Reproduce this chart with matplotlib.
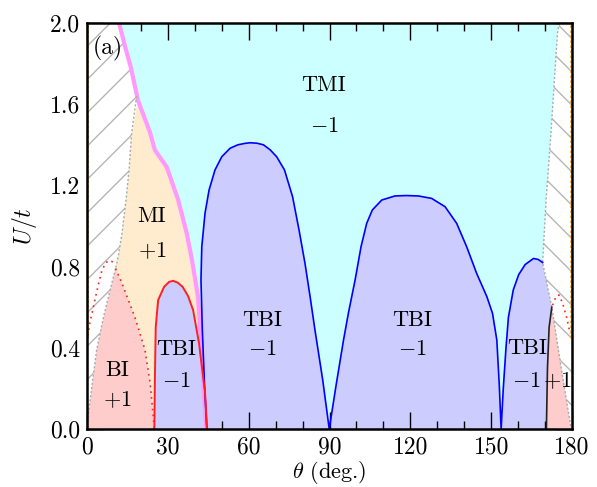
import matplotlib
matplotlib.use("Agg")
import matplotlib.pyplot as plt
import numpy as np

plt.rcParams['font.family'] = ['cmr10', 'DejaVu Serif']
plt.rcParams['mathtext.fontset'] = 'cm'
plt.rcParams['axes.unicode_minus'] = False
plt.rcParams['hatch.color'] = '#b5b5b5'
plt.rcParams['hatch.linewidth'] = 1.0

# ---------------- data (theta in deg, U/t) ----------------
# MI / TMI boundary (thick pink line)
pink_theta = [11.9, 14.0, 16.3, 18.9, 23.4, 25.2, 29.6, 33.8, 37.0, 39.0, 41.2, 42.2, 43.3, 44.3]
pink_U     = [2.00, 1.89, 1.78, 1.62, 1.46, 1.374, 1.29, 1.13, 0.965, 0.83, 0.65, 0.45, 0.20, 0.00]

# hatched (left) / MI boundary (gray dotted)
lgray_theta = [18.4, 16.5, 15.7, 14.5, 13.0, 11.6, 10.6]
lgray_U     = [1.64, 1.45, 1.29, 1.13, 0.965, 0.85, 0.79]

# BI (left) outer edge (gray dotted)
bi_left_theta = [10.6, 8.3, 6.1, 3.6, 2.0, 0.4, 0.0]
bi_left_U     = [0.79, 0.67, 0.55, 0.39, 0.23, 0.06, 0.0]

# BI / MI boundary (red dotted)
bi_mi_theta = [10.6, 12.9, 15.5, 17.8, 21.5, 23.4, 24.6, 25.0]
bi_mi_U     = [0.79, 0.72, 0.63, 0.55, 0.39, 0.23, 0.06, 0.0]

# red dotted arc inside left hatched region
lred_theta = [0.3, 1.0, 1.7, 3.0, 4.2, 5.5, 7.0, 8.5, 10.0]
lred_U     = [0.46, 0.52, 0.56, 0.64, 0.71, 0.78, 0.82, 0.83, 0.82]

# small TBI dome (red line)
dome_theta = [25.0, 25.2, 25.5, 26.4, 28.6, 30.5, 32.0, 33.8, 35.5, 37.5, 39.4, 41.6, 43.8, 44.5]
dome_U     = [0.0, 0.25, 0.50, 0.635, 0.70, 0.725, 0.73, 0.72, 0.70, 0.655, 0.585, 0.42, 0.18, 0.0]

# TMI / TBI boundary (blue line)
blue_theta = [44.5, 43.6, 42.8, 42.3, 42.6, 43.8, 45.3, 47.5, 50.0, 53.1, 56.0, 58.6, 60.5,
              63.0, 65.5, 68.0, 70.4, 73.3, 76.3, 78.7, 80.9, 82.8, 84.6, 87.5, 89.9,
              92.5, 95.2, 97.0, 99.5, 101.7, 103.8, 105.9, 109.4, 114.3, 118.5, 123.0,
              127.9, 132.9, 137.2, 140.9, 144.6, 148.4, 150.5, 152.1, 153.0, 153.7,
              154.5, 155.5, 156.4, 158.2, 160.2, 162.6, 165.7, 167.5, 169.1]
blue_U     = [0.0, 0.22, 0.488, 0.734, 0.898, 1.063, 1.177, 1.276, 1.341, 1.383, 1.400, 1.407, 1.41,
              1.408, 1.40, 1.375, 1.341, 1.276, 1.144, 0.98, 0.816, 0.652, 0.488, 0.24, 0.0,
              0.22, 0.438, 0.57, 0.734, 0.898, 1.013, 1.079, 1.128, 1.148, 1.150, 1.148,
              1.136, 1.095, 1.013, 0.898, 0.767, 0.652, 0.57, 0.438, 0.22, 0.0,
              0.20, 0.40, 0.55, 0.685, 0.76, 0.81, 0.84, 0.835, 0.82]

# TBI / BI boundary on the right (black line)
black_theta = [172.5, 171.5, 170.9, 170.5]
black_U     = [0.60, 0.50, 0.30, 0.0]

# right hatched region boundary (gray dotted)
rgray_theta = [175.3, 174.6, 172.2, 170.4, 169.1, 172.5, 176.0, 179.7]
rgray_U     = [2.00, 1.95, 1.46, 1.13, 0.82, 0.60, 0.30, 0.0]

# red dotted arc inside right hatched region
rred_theta = [172.8, 174.0, 175.2, 176.5, 178.0, 179.3]
rred_U     = [0.61, 0.65, 0.66, 0.62, 0.55, 0.47]

# orange dotted lines along the spines
orange_left_theta = [0.4, 0.4]
orange_right_theta = [179.5, 179.5]
orange_U = [0.45, 2.0]

# region labels
labels = [
    ("TMI", 87.8, 1.695), (r"$-1$", 88.0, 1.49),
    ("MI", 24.1, 1.05), (r"$+1$", 24.1, 0.88),
    ("BI", 11.1, 0.29), (r"$+1$", 11.1, 0.143),
    ("TBI", 33.0, 0.394), (r"$-1$", 33.0, 0.236),
    ("TBI", 65.0, 0.537), (r"$-1$", 65.0, 0.394),
    ("TBI", 120.6, 0.537), (r"$-1$", 120.6, 0.394),
    ("TBI", 163.5, 0.40), (r"$-1$", 163.2, 0.236), (r"$+1$", 174.6, 0.236),
]

# ---------------- colours ----------------
c_tmi = '#ccffff'
c_tbi = '#ccccff'
c_mi = '#ffebcd'
c_bi = '#ffcccc'

fig = plt.figure(figsize=(5.97, 4.87), dpi=100)
ax = fig.add_axes([87/597, 1-429/487, 485/597, 406/487])
ax.set_facecolor(c_tmi)

# TBI big region (under blue line, up to black line)
tbi_x = blue_theta + [172.5] + black_theta[1:] + [44.5]
tbi_y = blue_U + [0.60] + black_U[1:] + [0.0]
ax.fill(tbi_x, tbi_y, color=c_tbi, lw=0, zorder=1)

# MI region
mi_x = pink_theta[3:] + bi_mi_theta[::-1] + lgray_theta[::-1]
mi_y = pink_U[3:] + bi_mi_U[::-1] + lgray_U[::-1]
ax.fill(mi_x, mi_y, color=c_mi, lw=0, zorder=1)

# small TBI dome
ax.fill(dome_theta, dome_U, color=c_tbi, lw=0, zorder=2)

# BI left
bil_x = bi_left_theta[::-1] + bi_mi_theta
bil_y = bi_left_U[::-1] + bi_mi_U
ax.fill(bil_x, bil_y, color=c_bi, lw=0, zorder=2)

# left hatched region
lh_x = [0.0, 0.0] + pink_theta[:4] + lgray_theta[1:] + bi_left_theta[1:]
lh_y = [0.0, 2.0] + pink_U[:4] + lgray_U[1:] + bi_left_U[1:]
ax.fill(lh_x, lh_y, facecolor='white', edgecolor='#b5b5b5', hatch='/', lw=0, zorder=2)

# right hatched region
rh_x = rgray_theta + [180.0, 180.0]
rh_y = rgray_U + [0.0, 2.0]
ax.fill(rh_x, rh_y, facecolor='white', edgecolor='#b5b5b5', hatch='\\', lw=0, zorder=2)

# BI right
bir_x = black_theta + rgray_theta[-1:]
bir_y = black_U + rgray_U[-1:]
ax.fill(bir_x, bir_y, color=c_bi, lw=0, zorder=2)

# lines
ax.plot(pink_theta, pink_U, color='#ff99ff', lw=3.0, zorder=3, solid_capstyle='butt')
ax.plot(blue_theta, blue_U, color='#0000ff', lw=1.2, zorder=4, solid_joinstyle='round')
ax.plot(dome_theta, dome_U, color='#ff2020', lw=1.4, zorder=4, solid_joinstyle='round')
ax.plot(bi_mi_theta, bi_mi_U, color='#ff2020', lw=1.2, ls=(0, (1, 2.5)), zorder=4)
ax.plot(lred_theta, lred_U, color='#ff2020', lw=1.2, ls=(0, (1, 2.5)), zorder=4)
ax.plot(rred_theta, rred_U, color='#ff2020', lw=1.2, ls=(0, (1, 2.5)), zorder=4)
ax.plot(lgray_theta, lgray_U, color='#aaaaaa', lw=1.0, ls=(0, (1.5, 1.5)), zorder=3)
ax.plot(bi_left_theta, bi_left_U, color='#aaaaaa', lw=1.0, ls=(0, (1.5, 1.5)), zorder=3)
ax.plot(rgray_theta, rgray_U, color='#aaaaaa', lw=1.0, ls=(0, (1.5, 1.5)), zorder=3)
ax.plot(black_theta, black_U, color='#222222', lw=1.2, zorder=4)
ax.plot(orange_left_theta, orange_U, color='#ffaa00', lw=1.2, ls=(0, (1.5, 1.5)), zorder=4)
ax.plot(orange_right_theta, orange_U, color='#ffaa00', lw=1.2, ls=(0, (1.5, 1.5)), zorder=4)

for txt, x, y in labels:
    ax.text(x, y, txt, ha='center', va='center', fontsize=16, zorder=6)
ax.text(7.8, 1.877, "(a)", ha='center', va='center', fontsize=17, zorder=6)

ax.set_xlim(0, 180)
ax.set_ylim(0, 2.0)
ax.set_xticks(np.arange(0, 181, 30))
ax.set_xticks(np.arange(0, 181, 10), minor=True)
ax.set_yticks(np.arange(0, 2.01, 0.4))
ax.set_yticks(np.arange(0, 2.01, 0.2), minor=True)
ax.yaxis.set_major_formatter(matplotlib.ticker.FormatStrFormatter('%.1f'))
ax.tick_params(which='both', direction='in', top=True, right=True, labelsize=17, pad=5)
ax.tick_params(which='major', length=12, width=1.0)
ax.tick_params(which='minor', length=6, width=1.0)
for s in ax.spines.values():
    s.set_linewidth(1.8)
    s.set_zorder(10)

ax.set_xlabel(r"$\theta$ (deg.)", fontsize=16)
ax.xaxis.set_label_coords(0.5, -(459 - 429) / 406)
ax.set_ylabel(r"$U/t$", fontsize=17, labelpad=8)

fig.savefig("out.png", dpi=100)
